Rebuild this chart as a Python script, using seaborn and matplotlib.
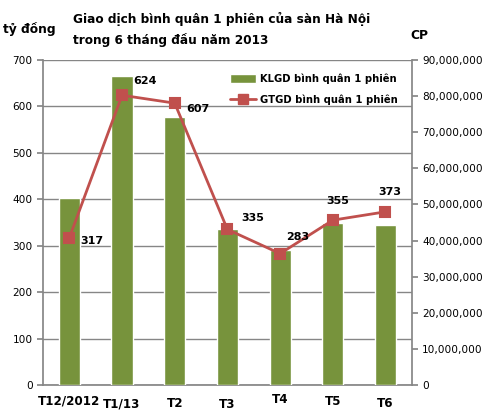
import numpy as np
import matplotlib
matplotlib.use("Agg")
import matplotlib.pyplot as plt
import matplotlib.ticker as mticker
import matplotlib.transforms as mtransforms
from matplotlib.lines import Line2D
from matplotlib.patches import Patch
import seaborn as sns

months = ["T12/2012", "T1/13", "T2", "T3", "T4", "T5", "T6"]
klgd = [51_900_000, 85_600_000, 74_300_000, 43_200_000, 37_400_000, 44_900_000, 44_400_000]
gtgd = [317, 624, 607, 335, 283, 355, 373]
gtgd_labels = ["317", "624", "607", "335", "283", "355", "373"]

sns.set_theme(style="white")
plt.rcParams["font.family"] = ["DejaVu Sans"]
plt.rcParams["text.color"] = "black"
plt.rcParams["xtick.color"] = "black"
plt.rcParams["ytick.color"] = "black"

bar_color = "#77933C"
line_color = "#C0504D"
axis_gray = "#868686"

fig = plt.figure(figsize=(4.98, 4.13), dpi=100)
ax = fig.add_axes([0.0863, 0.0678, 0.7407, 0.787])
ax.set_facecolor("none")

# left axis (ty dong) with grid
ax.set_ylim(0, 700)
ax.yaxis.set_major_locator(mticker.MultipleLocator(100))
ax.grid(axis="y", color=axis_gray, linewidth=1)
ax.set_axisbelow(True)
ax.tick_params(axis="y", labelsize=7.6, length=4, color=axis_gray, direction="out", left=True)
ax.set_xlim(-0.5, 6.5)

# bars on right axis (CP)
axb = ax.twinx()
sns.barplot(x=months, y=klgd, ax=axb, color=bar_color, width=0.4, saturation=1)
axb.set_ylim(0, 90_000_000)
axb.yaxis.set_major_locator(mticker.MultipleLocator(10_000_000))
axb.yaxis.set_major_formatter(mticker.FuncFormatter(lambda v, p: f"{int(v):,}"))
axb.tick_params(axis="y", labelsize=7.6, length=4, color=axis_gray, direction="out", right=True)
axb.set_ylabel("")

# line on left scale, drawn on top
axl = ax.twinx()
sns.pointplot(x=months, y=gtgd, ax=axl, color=line_color, markers="s",
              linestyles="-", markersize=7, linewidth=2)
axl.set_ylim(0, 700)
axl.yaxis.set_visible(False)
for sp in axl.spines.values():
    sp.set_visible(False)

offsets = [(8, -2), (8, 10), (8, -4), (10, 8), (4, 12), (-5, 14), (-5, 14)]
for i, (v, lab) in enumerate(zip(gtgd, gtgd_labels)):
    axl.annotate(lab, (i, v), xytext=offsets[i], textcoords="offset points",
                 fontsize=8, fontweight="bold", ha="left", va="center")

for a in (ax, axb, axl):
    a.set_xlim(-0.5, 6.5)

# x axis: ticks between categories, labels at centers
ax.set_xticks(np.arange(-0.5, 7, 1))
ax.set_xticklabels([])
ax.set_xticks(np.arange(len(months)), minor=True)
ax.set_xticklabels(months, minor=True, fontsize=8.6, fontweight="bold")
ax.tick_params(axis="x", which="major", length=4, color=axis_gray, bottom=True, direction="out")
ax.tick_params(axis="x", which="minor", length=0, pad=8)
label_shift = [-2, 1, 1, 2, -3, -1, 1]
for lab, dy in zip(ax.get_xticklabels(minor=True), label_shift):
    lab.set_transform(lab.get_transform() +
                      mtransforms.ScaledTranslation(0, -dy / 100, fig.dpi_scale_trans))
axb.set_xticks([])
axl.set_xticks([])

for a in (ax, axb):
    a.spines["top"].set_visible(False)
    for s in ("left", "right", "bottom"):
        a.spines[s].set_color(axis_gray)
ax.spines["right"].set_visible(False)
axb.spines["left"].set_visible(False)
axb.spines["bottom"].set_visible(False)

handles = [Patch(facecolor=bar_color, label="KLGD bình quân 1 phiên"),
           Line2D([0], [0], color=line_color, marker="s", markersize=7, linewidth=2,
                  label="GTGD bình quân 1 phiên")]
leg = axl.legend(handles=handles, loc="upper right", bbox_to_anchor=(0.985, 0.985),
                 frameon=False, fontsize=7.2, handlelength=2.6, handleheight=1.0,
                 handletextpad=0.4, labelspacing=1.0)
for t in leg.get_texts():
    t.set_fontweight("bold")

fig.text(0.147, 0.97, "Giao dịch bình quân 1 phiên của sàn Hà Nội\ntrong 6 tháng đầu năm 2013",
         fontsize=8.7, fontweight="bold", ha="left", va="top", linespacing=1.6)
fig.text(0.006, 0.93, "tỷ đồng", fontsize=8.8, fontweight="bold", ha="left", va="center")
fig.text(0.825, 0.915, "CP", fontsize=8.8, fontweight="bold", ha="left", va="center")

fig.savefig("out.png", dpi=100)
